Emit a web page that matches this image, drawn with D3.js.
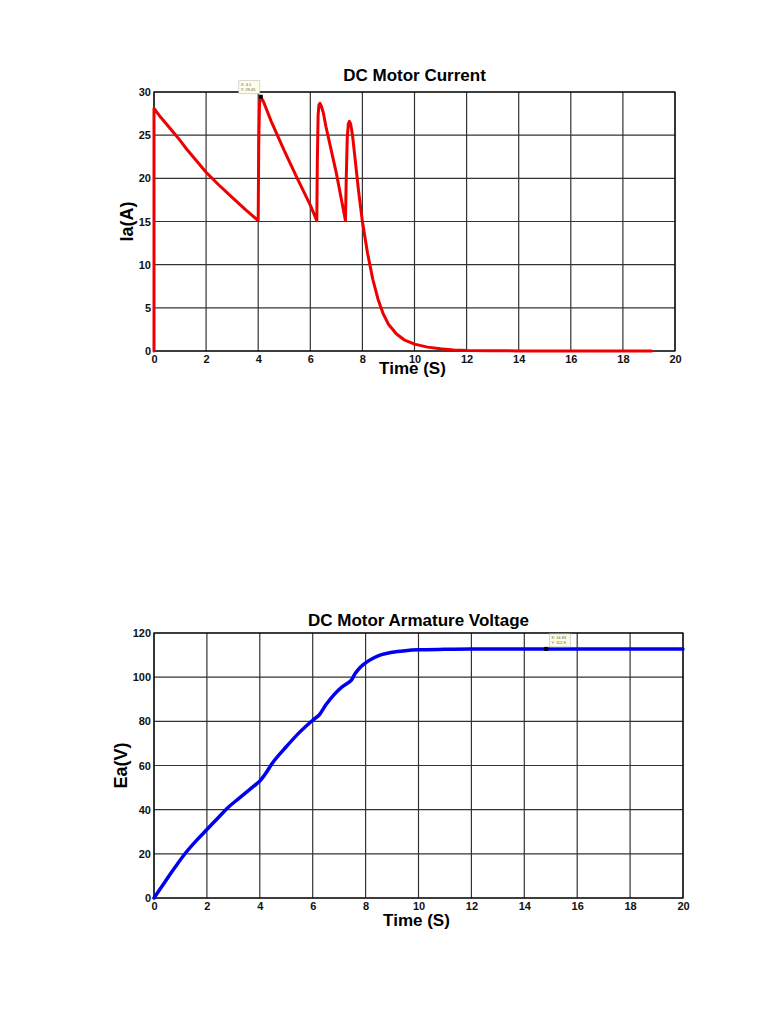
<!DOCTYPE html>
<html>
<head>
<meta charset="utf-8">
<script src="https://cdn.jsdelivr.net/npm/d3@7"></script>
<style>
    body { margin: 0; background: #fff; }
    svg text { font-family: Arial, "Liberation Sans", Helvetica, sans-serif; }
    .tick text { font-weight: bold; font-size: 11px; fill: #111; }
    .title { font-weight: bold; font-size: 17px; }
    .axis-label { font-weight: bold; font-size: 17px; }
    .y-label { font-size: 18px; }
    .grid line { stroke: #333; stroke-width: 1.2; }
</style>
</head>
<body>
<div id="chart"></div>
<script>
// time ticks shared by both charts
const timeTicks = [0, 2, 4, 6, 8, 10, 12, 14, 16, 18, 20]
const currentTicks = [0, 5, 10, 15, 20, 25, 30]
const voltageTicks = [0, 20, 40, 60, 80, 100, 120]

// armature current Ia(A)
const currentT = [0, 0, 0.25, 0.5, 0.75, 1, 1.25, 1.5, 1.75, 2, 2.5, 3, 3.5, 4, 4.02, 4.05, 4.08, 4.12, 4.2, 4.5, 5, 5.5, 6, 6.25,
    6.27, 6.3, 6.33, 6.37, 6.42, 6.5, 6.6, 7, 7.35, 7.38, 7.42, 7.46, 7.5, 7.55, 7.62, 7.7, 7.85, 8, 8.2, 8.4, 8.6, 8.8, 9, 9.3,
    9.6, 10, 10.5, 11, 11.5, 12, 13, 14, 16, 19.1]
const currentI = [0, 28.1, 27.1, 26.2, 25.3, 24.4, 23.4, 22.5, 21.6, 20.7, 19.2, 17.8, 16.4, 15.1, 24, 28.6, 29.3, 29.3, 28.9, 26.6, 23.2, 20.0, 16.9, 15.1,
    22, 27.3, 28.5, 28.7, 28.4, 27.6, 26.0, 20.6, 15.1, 20, 24.8, 26.3, 26.6, 26.3, 25.0, 22.8, 18.6, 15.0, 11.3, 8.3, 6.0, 4.3, 3.1, 2.0,
    1.3, 0.8, 0.45, 0.25, 0.13, 0.07, 0.03, 0.01, 0, 0]

// armature voltage Ea(V)
const voltageT = [0, 0.4, 0.8, 1.2, 1.6, 2, 2.4, 2.8, 3.2, 3.6, 4, 4.2, 4.5, 5, 5.5, 6, 6.25, 6.5, 6.8, 7.1,
    7.45, 7.6, 7.8, 8, 8.3, 8.6, 9, 9.5, 10, 11, 12, 14, 16, 20]
const voltageE = [0, 7, 14, 20.5, 26, 31, 36, 41, 45, 49, 53, 56, 61.5, 68.5, 75, 80.5, 83, 87.5, 92, 95.5,
    98.5, 101.5, 104.5, 106.5, 108.7, 110.2, 111.3, 112, 112.4, 112.6, 112.7, 112.8, 112.8, 112.8]

const svg = d3.select('#chart').append('svg')
    .attr('width', 768)
    .attr('height', 1024)

function drawChart(cfg) {
    const g = svg.append('g')
    const x = d3.scaleLinear().domain([0, 20]).range([cfg.left, cfg.right])
    const y = d3.scaleLinear().domain(cfg.yDomain).range([cfg.bottom, cfg.top])

    // grid
    g.append('g').attr('class', 'grid')
        .selectAll('line').data(timeTicks).join('line')
        .attr('x1', d => x(d)).attr('x2', d => x(d))
        .attr('y1', cfg.top).attr('y2', cfg.bottom)
    g.append('g').attr('class', 'grid')
        .selectAll('line').data(cfg.yTicks).join('line')
        .attr('x1', cfg.left).attr('x2', cfg.right)
        .attr('y1', d => y(d)).attr('y2', d => y(d))

    // frame
    g.append('rect')
        .attr('x', cfg.left).attr('y', cfg.top)
        .attr('width', cfg.right - cfg.left).attr('height', cfg.bottom - cfg.top)
        .attr('fill', 'none').attr('stroke', '#000').attr('stroke-width', 1.2)

    const xAxis = g.append('g')
        .attr('transform', `translate(0,${cfg.bottom})`)
        .call(d3.axisBottom(x).tickValues(timeTicks).tickSize(0).tickPadding(4).tickFormat(d3.format('d')))
    xAxis.select('.domain').remove()

    const yAxis = g.append('g')
        .attr('transform', `translate(${cfg.left},0)`)
        .call(d3.axisLeft(y).tickValues(cfg.yTicks).tickSize(0).tickPadding(3).tickFormat(d3.format('d')))
    yAxis.select('.domain').remove()

    // curve
    const pts = cfg.t.map((t, i) => [t, cfg.v[i]])
    g.append('path')
        .datum(pts)
        .attr('fill', 'none')
        .attr('stroke', cfg.color)
        .attr('stroke-width', cfg.width)
        .attr('stroke-linejoin', 'round')
        .attr('stroke-linecap', 'round')
        .attr('d', d3.line().x(d => x(d[0])).y(d => y(d[1])).curve(cfg.curve))

    // data tip
    const tx = x(cfg.tip[0]), ty = y(cfg.tip[1])
    g.append('rect')
        .attr('x', tx - 2).attr('y', ty - 2).attr('width', 4).attr('height', 4)
        .attr('fill', '#000')
    g.append('rect')
        .attr('x', tx + cfg.tipBox[0]).attr('y', ty + cfg.tipBox[1])
        .attr('width', 21).attr('height', 13)
        .attr('fill', '#ffffe6').attr('stroke', '#bbb').attr('stroke-width', 0.6)
    g.append('text')
        .attr('x', tx + cfg.tipBox[0] + 2).attr('y', ty + cfg.tipBox[1] + 5.5)
        .attr('font-size', 4).attr('fill', '#555')
        .text(`X: ${cfg.tip[0]}`)
    g.append('text')
        .attr('x', tx + cfg.tipBox[0] + 2).attr('y', ty + cfg.tipBox[1] + 10.5)
        .attr('font-size', 4).attr('fill', '#555')
        .text(`Y: ${cfg.tip[1]}`)

    g.append('text').attr('class', 'title')
        .attr('x', (cfg.left + cfg.right) / 2).attr('y', cfg.top - cfg.titleDy)
        .attr('text-anchor', 'middle')
        .text(cfg.title)
    g.append('text').attr('class', 'axis-label')
        .attr('x', (cfg.left + cfg.right) / 2 - 2).attr('y', cfg.bottom + cfg.xLabelDy)
        .attr('text-anchor', 'middle')
        .text('Time (S)')
    g.append('text').attr('class', 'axis-label y-label')
        .attr('transform', `translate(${cfg.left - cfg.yLabelDx},${(cfg.top + cfg.bottom) / 2}) rotate(-90)`)
        .attr('text-anchor', 'middle')
        .text(cfg.yLabel)
}

drawChart({
    left: 154, right: 675, top: 92, bottom: 351,
    yDomain: [0, 30], yTicks: currentTicks,
    t: currentT, v: currentI, color: '#ee0000', width: 3, curve: d3.curveLinear,
    title: 'DC Motor Current', yLabel: 'Ia(A)', titleDy: 11,
    xLabelDy: 23, yLabelDx: 21,
    tip: [4.1, 29.45], tipBox: [-22, -16]
})

drawChart({
    left: 154, right: 683, top: 633, bottom: 898,
    yDomain: [0, 120], yTicks: voltageTicks,
    t: voltageT, v: voltageE, color: '#0000ee', width: 3.5, curve: d3.curveCatmullRom.alpha(0.5),
    title: 'DC Motor Armature Voltage', yLabel: 'Ea(V)', titleDy: 7,
    xLabelDy: 28, yLabelDx: 27,
    tip: [14.83, 112.8], tipBox: [3, -15]
})
</script>
</body>
</html>
